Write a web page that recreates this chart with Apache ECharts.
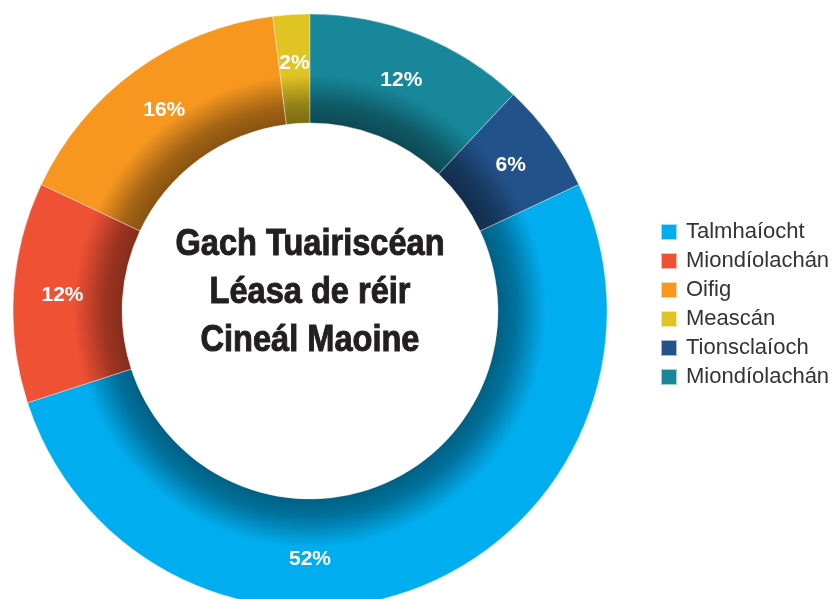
<!DOCTYPE html>
<html>
<head>
<meta charset="utf-8">
<style>
  html, body { margin: 0; padding: 0; background: #fff; }
  #chart { width: 835px; height: 599px; }
</style>
<script src="https://cdn.jsdelivr.net/npm/echarts@6/dist/echarts.min.js"></script>
</head>
<body>
<div id="chart"></div>
<script>
// data in drawing order (clockwise from Talmhaíocht)
const names = ['Talmhaíocht', 'Miondíolachán', 'Oifig', 'Meascán', 'Miondíolachán ', 'Tionsclaíoch'];
const values = [52, 12, 16, 2, 12, 6];
const colors = ['#00AEEF', '#EF5134', '#F7971F', '#E0C423', '#178799', '#22528A'];
// legend order as printed
const legendOrder = ['Talmhaíocht', 'Miondíolachán', 'Oifig', 'Meascán', 'Tionsclaíoch', 'Miondíolachán '];
const title = 'Gach Tuairiscéan\nLéasa de réir\nCineál Maoine';

const cx = 310, cy = 311, r0 = 188, r1 = 297;
const labelR = 248;

function shade(hex, f) {
    const n = parseInt(hex.slice(1), 16);
    const r = Math.round(((n >> 16) & 255) * f);
    const g = Math.round(((n >> 8) & 255) * f);
    const b = Math.round((n & 255) * f);
    return `rgb(${r},${g},${b})`;
}

// inner shadow: radial gradient in global coords, dark at the hole, base colour further out
function ringColor(hex) {
    const R = 240;
    return {
        type: 'radial', x: cx, y: cy, r: R, global: true,
        colorStops: [
            { offset: 0, color: shade(hex, 0.55) },
            { offset: r0 / R, color: shade(hex, 0.55) },
            { offset: 0.86, color: shade(hex, 0.66) },
            { offset: 0.94, color: shade(hex, 0.88) },
            { offset: 0.985, color: hex },
            { offset: 1, color: hex }
        ]
    };
}

const chart = echarts.init(document.getElementById('chart'));
const option = {
    animation: false,
    legend: {
        orient: 'vertical',
        left: 655,
        top: 216,
        itemWidth: 16,
        itemHeight: 16,
        itemGap: 7,
        icon: 'rect',
        textStyle: {
            fontFamily: '"Liberation Sans", Arial, sans-serif',
            fontSize: 22,
            lineHeight: 22,
            color: '#333',
            padding: [0, 0, 0, 4]
        },
        data: legendOrder.map(n => ({ name: n, itemStyle: { color: colors[names.indexOf(n)] } }))
    },
    graphic: [{
        type: 'text',
        x: cx,
        y: 293,
        scaleX: 0.88,
        style: {
            text: title,
            textAlign: 'center',
            textVerticalAlign: 'middle',
            fontFamily: '"Liberation Sans", Arial, sans-serif',
            fontWeight: 'bold',
            fontSize: 37,
            lineHeight: 48,
            fill: '#231F20',
            stroke: '#231F20',
            lineWidth: 1
        }
    }],
    series: [{
        type: 'pie',
        center: [cx, cy],
        radius: [r0, r1],
        startAngle: 25.2,
        clockwise: true,
        avoidLabelOverlap: false,
        silent: true,
        itemStyle: {
            borderColor: 'rgba(255,255,255,0.6)',
            borderWidth: 0.6
        },
        label: {
            show: true,
            position: 'inside',
            formatter: '{c}%',
            color: '#fff',
            fontFamily: '"Liberation Sans", Arial, sans-serif',
            fontWeight: 'bold',
            fontSize: 21
        },
        // push labels a little outward; the big slice's label sits in its visible part at the bottom
        labelLayout: function (p) {
            const lx = p.labelRect.x + p.labelRect.width / 2;
            const ly = p.labelRect.y + p.labelRect.height / 2;
            let a = Math.atan2(ly - cy, lx - cx);
            if (p.dataIndex === 0) a = Math.PI / 2;
            return { x: cx + labelR * Math.cos(a), y: cy + labelR * Math.sin(a), align: 'center', verticalAlign: 'middle' };
        },
        labelLine: { show: false },
        data: names.map((n, i) => ({
            name: n,
            value: values[i],
            itemStyle: { color: ringColor(colors[i]) }
        }))
    }]
};
chart.setOption(option);
</script>
</body>
</html>
